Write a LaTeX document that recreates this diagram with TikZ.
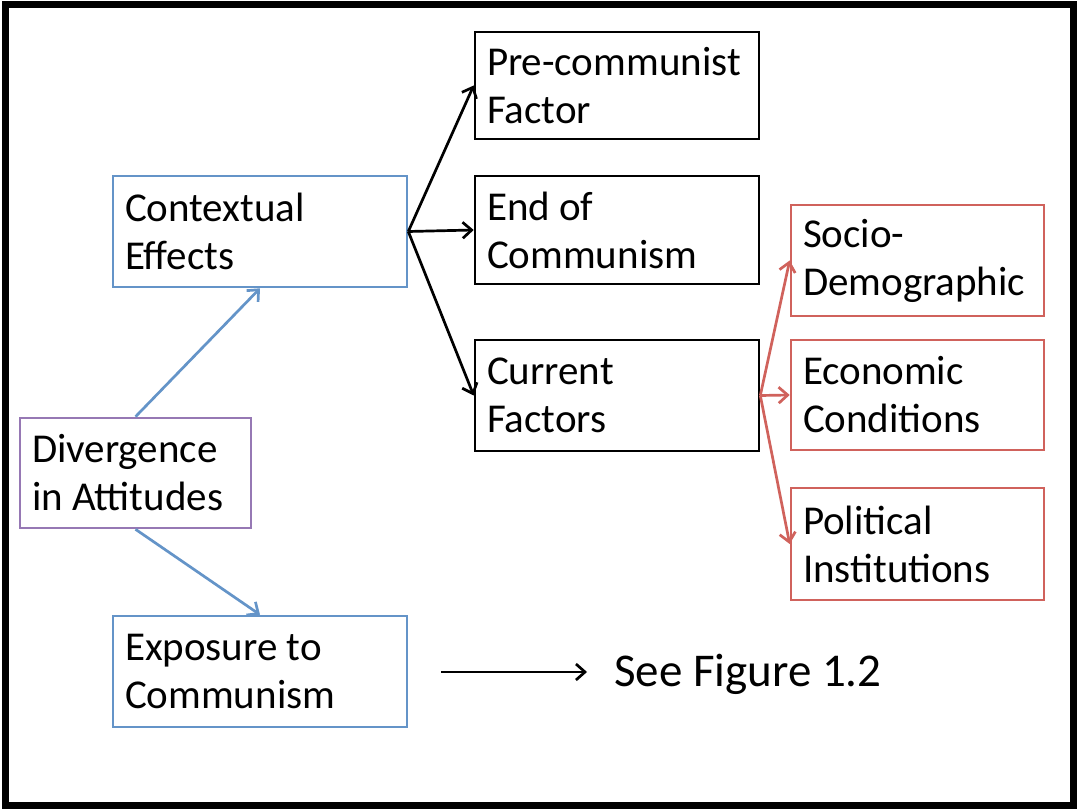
\documentclass[tikz,border=0pt]{standalone}
\usepackage{fontspec}
\setmainfont{Carlito}
\usetikzlibrary{arrows.meta}
\definecolor{oblue}{RGB}{100,148,200}
\definecolor{opurple}{RGB}{150,120,180}
\definecolor{ored}{RGB}{208,98,92}
\begin{document}
\begin{tikzpicture}[x=1pt,y=-1pt,
  box/.style={draw, line width=2.6pt, rectangle, inner xsep=12pt, inner ysep=0pt,
    align=flush left, anchor=center, font=\fontsize{41}{48}\selectfont},
  conn/.style={line width=2.7pt, -{Straight Barb[length=9pt,width=16pt,line width=2.7pt]}}]
\useasboundingbox (0,0) rectangle (1077,810);
\draw[line width=7pt] (5.5,4.5) rectangle (1073.5,805.5);
% black boxes
\node[box, minimum width=284pt, minimum height=107pt, text width=260pt] (pre) at (617,85.5) {Pre-communist\\Factor};
\node[box, minimum width=284pt, minimum height=108pt, text width=260pt] (end) at (617,230) {End of\\Communism};
\node[box, minimum width=284pt, minimum height=111pt, text width=260pt] (cur) at (617,395.5) {Current\\Factors};
% blue boxes
\node[box, draw=oblue, minimum width=294pt, minimum height=111pt, text width=270pt] (ctx) at (260,231.5) {Contextual\\Effects};
\node[box, draw=oblue, minimum width=294pt, minimum height=111pt, text width=270pt] (exp) at (260,671.5) {Exposure to\\Communism};
% purple box
\node[box, draw=opurple, minimum width=231pt, minimum height=110pt, text width=207pt] (div) at (135.5,473) {Divergence\\in Attitudes};
% red boxes
\node[box, draw=ored, minimum width=253pt, minimum height=111pt, text width=229pt] (soc) at (917.5,260.5) {Socio-\\Demographic};
\node[box, draw=ored, minimum width=253pt, minimum height=110pt, text width=229pt] (eco) at (917.5,395) {Economic\\Conditions};
\node[box, draw=ored, minimum width=253pt, minimum height=112pt, text width=229pt] (pol) at (917.5,544) {Political\\Institutions};
% see figure
\coordinate (s1) at (441,672);
\coordinate (s2) at (587,672);
\node[anchor=west, inner sep=0pt, font=\fontsize{47}{56}\selectfont] (see) at (614,674) {See Figure 1.2};
% connectors
\draw[conn] (ctx.east) -- (pre.west);
\draw[conn] (ctx.east) -- (end.west);
\draw[conn] (ctx.east) -- (cur.west);
\draw[conn, ored] (cur.east) -- (soc.west);
\draw[conn, ored] (cur.east) -- (eco.west);
\draw[conn, ored] (cur.east) -- (pol.west);
\draw[conn, oblue] (div.north) -- (ctx.south);
\draw[conn, oblue] (div.south) -- (exp.north);
\draw[conn] (s1) -- (s2);
\end{tikzpicture}
\end{document}
